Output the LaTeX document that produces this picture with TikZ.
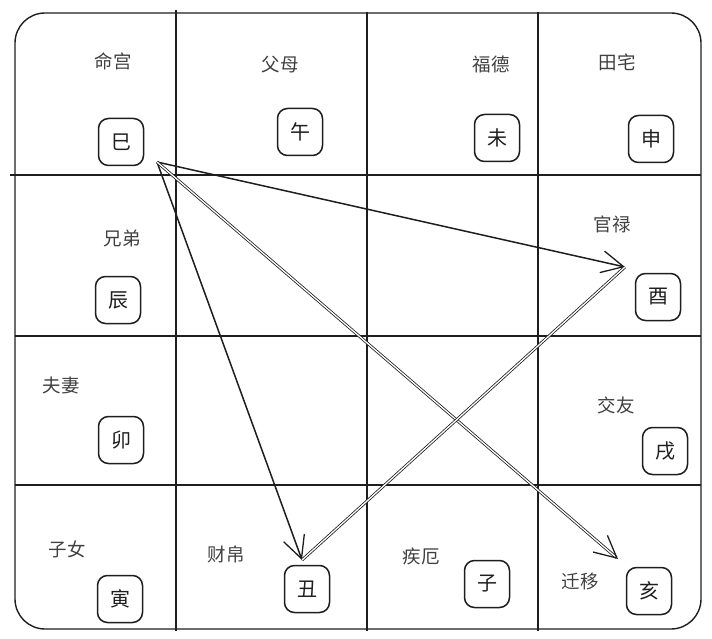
\documentclass[tikz,border=0pt]{standalone}
\usepackage{fontspec}
\newfontfamily\cjk{Noto Sans CJK SC}
\usetikzlibrary{arrows.meta}
\definecolor{ink}{HTML}{1E1E1E}
\tikzset{
  lbl/.style={font=\cjk\fontsize{18.5}{18.5}\selectfont, text=ink!85, inner sep=0pt},
  branch/.style={draw=ink, line width=1.5pt, rounded corners=10pt, minimum width=45pt, minimum height=47pt, inner sep=0pt, font=\cjk\fontsize{20}{20}\selectfont, text=ink},
  gridline/.style={draw=ink, line width=1.4pt},
  link/.style={draw=ink, line width=1.5pt, -{Straight Barb[length=22pt,width=22pt,line width=1.3pt]}},
  dlink/.style={draw=ink, line width=0.8pt, double=white, double distance=1.3pt, -{Straight Barb[length=22pt,width=22pt,line width=1.3pt]}},
  dline/.style={draw=ink, line width=0.8pt, double=white, double distance=1.3pt}
}
\begin{document}
\begin{tikzpicture}[x=1pt,y=-1pt]
\useasboundingbox (0,0) rectangle (712,639);
% outer frame and grid
\draw[gridline, rounded corners=30pt] (15,13) rectangle (701,629);
\draw[gridline] (176,10) -- (176,631);
\draw[gridline] (367,12) -- (367,631);
\draw[gridline] (538,12) -- (538,631);
\draw[gridline] (10,175) -- (701,175);
\draw[gridline] (15,336) -- (701,336);
\draw[gridline] (15,485) -- (701,485);
% palace labels
\node[lbl] (lming) at (113,61) {命宫};
\node[lbl] (lfumu) at (280,65) {父母};
\node[lbl] (lfude) at (491,64) {福德};
\node[lbl] (ltian) at (617,62) {田宅};
\node[lbl] (lxiong) at (122,238) {兄弟};
\node[lbl] (lguan) at (612,224) {官禄};
\node[lbl] (lfuqi) at (61,385) {夫妻};
\node[lbl] (ljiao) at (616,405) {交友};
\node[lbl] (lzinv) at (67,549) {子女};
\node[lbl] (lcai) at (226,554) {财帛};
\node[lbl] (lji) at (421,556) {疾厄};
\node[lbl] (lqian) at (580,582) {迁移};
% branch boxes
\node[branch] (si) at (121,142) {巳};
\node[branch] (wu) at (300,132) {午};
\node[branch] (wei) at (497,138) {未};
\node[branch] (shen) at (651,139) {申};
\node[branch] (chen) at (118,300) {辰};
\node[branch] (you) at (658,297) {酉};
\node[branch] (mao) at (121,440) {卯};
\node[branch] (xu) at (665,451) {戌};
\node[branch] (yin) at (120,599) {寅};
\node[branch] (chou) at (307,589) {丑};
\node[branch] (zi) at (487,584) {子};
\node[branch] (hai) at (649,591) {亥};
% arrow ends
\coordinate (start) at (157,162);
\coordinate (tyou) at (625,267);
\coordinate (tchou) at (302,560);
\coordinate (thai) at (618,559);
% connectors
\draw[link] (start) -- (tyou);
\draw[link] (start) -- (tchou);
\draw[dlink] (start) -- (thai);
\draw[dline] (tchou) -- (tyou);
\end{tikzpicture}
\end{document}
